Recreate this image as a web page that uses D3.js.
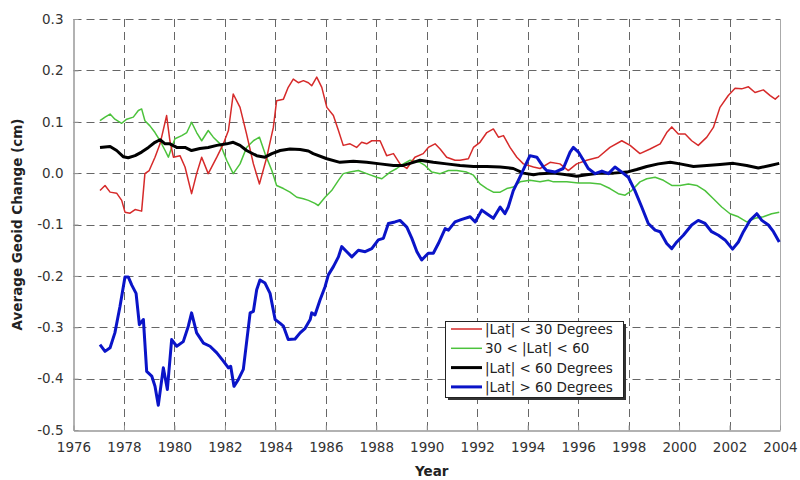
<!DOCTYPE html>
<html>
<head>
<meta charset="utf-8">
<script src="https://cdn.jsdelivr.net/npm/d3@7"></script>
<style>
  html, body { margin: 0; padding: 0; background: #fff; }
  svg { display: block; font-family: "DejaVu Sans", Verdana, sans-serif; }
</style>
</head>
<body>
<svg id="chart" width="800" height="480"></svg>
<script>
// ---- data (year, value in cm) ----
const xTicks = [1976, 1978, 1980, 1982, 1984, 1986, 1988, 1990, 1992, 1994, 1996, 1998, 2000, 2002, 2004];
const yTicks = [-0.5, -0.4, -0.3, -0.2, -0.1, 0.0, 0.1, 0.2, 0.3];
const seriesNames = ["|Lat| < 30 Degrees", "30 < |Lat| < 60", "|Lat| < 60 Degrees", "|Lat| > 60 Degrees"];

const redData = [
  [1977.05,-0.034],[1977.25,-0.024],[1977.45,-0.037],[1977.71,-0.039],[1977.91,-0.053],[1978.04,-0.076],
  [1978.24,-0.078],[1978.44,-0.071],[1978.70,-0.074],[1978.83,-0.001],[1979.0,0.005],[1979.23,0.031],
  [1979.43,0.057],[1979.69,0.112],[1979.82,0.063],[1979.96,0.031],[1980.22,0.034],[1980.42,0.012],
  [1980.68,-0.040],[1980.88,-0.001],[1981.08,0.031],[1981.34,-0.001],[1981.68,0.031],[1981.94,0.057],
  [1982.14,0.083],[1982.33,0.154],[1982.60,0.128],[1982.86,0.076],[1983.13,0.018],[1983.37,-0.021],
  [1983.66,0.031],[1983.92,0.089],[1984.05,0.141],[1984.32,0.144],[1984.51,0.167],[1984.71,0.183],
  [1984.91,0.176],[1985.11,0.180],[1985.31,0.176],[1985.44,0.170],[1985.64,0.187],[1985.84,0.167],
  [1986.04,0.128],[1986.30,0.112],[1986.50,0.083],[1986.69,0.054],[1986.96,0.057],[1987.22,0.050],
  [1987.42,0.060],[1987.62,0.057],[1987.82,0.063],[1988.15,0.063],[1988.41,0.034],[1988.68,0.038],
  [1988.94,0.018],[1989.21,0.009],[1989.53,0.031],[1989.86,0.038],[1990.06,0.050],[1990.33,0.057],
  [1990.53,0.047],[1990.79,0.031],[1991.12,0.025],[1991.32,0.025],[1991.65,0.028],[1991.85,0.050],
  [1992.11,0.060],[1992.38,0.079],[1992.64,0.086],[1992.84,0.070],[1993.04,0.073],[1993.30,0.050],
  [1993.57,0.031],[1993.83,0.018],[1994.23,0.012],[1994.49,0.009],[1994.89,0.021],[1995.28,0.018],
  [1995.61,0.005],[1995.94,0.018],[1996.34,0.025],[1996.80,0.031],[1997.26,0.050],[1997.73,0.063],
  [1998.06,0.054],[1998.45,0.038],[1998.85,0.047],[1999.25,0.057],[1999.51,0.079],[1999.71,0.090],
  [1999.97,0.076],[2000.24,0.076],[2000.50,0.063],[2000.76,0.054],[2001.10,0.070],[2001.36,0.089],
  [2001.62,0.128],[2001.95,0.151],[2002.22,0.165],[2002.48,0.164],[2002.75,0.168],[2003.01,0.157],
  [2003.34,0.162],[2003.61,0.151],[2003.81,0.144],[2003.97,0.151]
];

const greenData = [
  [1977.05,0.102],[1977.25,0.109],[1977.45,0.115],[1977.64,0.105],[1977.91,0.097],[1978.11,0.105],
  [1978.37,0.109],[1978.57,0.122],[1978.70,0.125],[1978.83,0.102],[1979.03,0.092],[1979.23,0.079],
  [1979.43,0.063],[1979.63,0.044],[1979.76,0.031],[1979.89,0.050],[1980.02,0.067],[1980.29,0.073],
  [1980.49,0.079],[1980.68,0.099],[1980.88,0.079],[1981.08,0.063],[1981.34,0.083],[1981.54,0.070],
  [1981.81,0.057],[1982.07,0.025],[1982.33,-0.001],[1982.60,0.018],[1982.86,0.050],[1983.13,0.063],
  [1983.37,0.070],[1983.59,0.038],[1983.86,0.005],[1984.05,-0.024],[1984.32,-0.030],[1984.58,-0.037],
  [1984.85,-0.047],[1985.11,-0.050],[1985.31,-0.053],[1985.57,-0.059],[1985.70,-0.063],[1985.97,-0.047],
  [1986.23,-0.034],[1986.50,-0.014],[1986.69,-0.001],[1986.96,0.002],[1987.29,0.005],[1987.62,-0.001],
  [1988.02,-0.008],[1988.22,-0.011],[1988.55,0.002],[1988.81,0.009],[1989.07,0.018],[1989.34,0.025],
  [1989.73,0.021],[1989.93,0.015],[1990.20,0.002],[1990.53,-0.001],[1990.86,0.005],[1991.19,0.005],
  [1991.58,0.002],[1991.85,-0.004],[1992.11,-0.021],[1992.38,-0.030],[1992.64,-0.037],[1992.91,-0.037],
  [1993.17,-0.030],[1993.43,-0.027],[1993.70,-0.017],[1994.09,-0.014],[1994.49,-0.017],[1994.82,-0.014],
  [1995.02,-0.017],[1995.55,-0.017],[1996.01,-0.019],[1996.47,-0.019],[1996.87,-0.021],[1997.26,-0.030],
  [1997.59,-0.040],[1997.86,-0.043],[1998.12,-0.034],[1998.45,-0.017],[1998.72,-0.011],[1999.05,-0.008],
  [1999.38,-0.014],[1999.71,-0.024],[2000.04,-0.024],[2000.37,-0.021],[2000.70,-0.024],[2001.03,-0.034],
  [2001.36,-0.050],[2001.69,-0.066],[2002.02,-0.079],[2002.35,-0.085],[2002.68,-0.095],[2003.01,-0.088],
  [2003.34,-0.085],[2003.67,-0.079],[2003.97,-0.076]
];

const blackData = [
  [1977.05,0.050],[1977.45,0.052],[1977.71,0.044],[1977.97,0.032],[1978.17,0.030],[1978.44,0.034],
  [1978.70,0.041],[1978.97,0.050],[1979.23,0.060],[1979.43,0.065],[1979.63,0.057],[1979.82,0.057],
  [1980.09,0.050],[1980.42,0.050],[1980.68,0.044],[1981.01,0.048],[1981.34,0.050],[1981.68,0.054],
  [1982.07,0.057],[1982.33,0.060],[1982.60,0.054],[1982.86,0.044],[1983.26,0.034],[1983.59,0.031],
  [1983.86,0.038],[1984.19,0.044],[1984.58,0.047],[1984.98,0.046],[1985.31,0.043],[1985.50,0.038],
  [1986.04,0.028],[1986.56,0.021],[1987.09,0.023],[1987.62,0.021],[1988.15,0.018],[1988.68,0.015],
  [1989.07,0.015],[1989.47,0.021],[1989.73,0.025],[1990.26,0.021],[1990.79,0.018],[1991.32,0.015],
  [1991.85,0.013],[1992.38,0.013],[1992.91,0.012],[1993.43,0.009],[1993.83,0.000],[1994.23,-0.003],
  [1994.49,-0.001],[1995.02,0.000],[1995.55,-0.003],[1995.94,-0.006],[1996.34,-0.003],[1996.87,0.000],
  [1997.40,0.000],[1997.93,0.002],[1998.32,0.007],[1998.72,0.013],[1999.18,0.018],[1999.65,0.021],
  [2000.04,0.018],[2000.57,0.013],[2001.10,0.015],[2001.62,0.017],[2002.15,0.019],[2002.68,0.015],
  [2003.14,0.010],[2003.61,0.015],[2003.97,0.019]
];

const blueData = [
  [1977.05,-0.334],[1977.25,-0.347],[1977.45,-0.340],[1977.64,-0.311],[1977.84,-0.260],[1978.04,-0.202],
  [1978.17,-0.202],[1978.31,-0.218],[1978.48,-0.234],[1978.61,-0.295],[1978.77,-0.285],[1978.90,-0.386],
  [1979.10,-0.395],[1979.23,-0.415],[1979.36,-0.452],[1979.56,-0.379],[1979.72,-0.421],[1979.89,-0.324],
  [1980.09,-0.337],[1980.35,-0.328],[1980.55,-0.298],[1980.68,-0.272],[1980.88,-0.311],[1981.15,-0.331],
  [1981.41,-0.337],[1981.68,-0.350],[1981.94,-0.366],[1982.14,-0.379],[1982.23,-0.376],[1982.36,-0.415],
  [1982.53,-0.402],[1982.73,-0.382],[1983.00,-0.272],[1983.13,-0.269],[1983.26,-0.227],[1983.39,-0.208],
  [1983.59,-0.214],[1983.79,-0.234],[1983.99,-0.285],[1984.18,-0.292],[1984.32,-0.298],[1984.51,-0.324],
  [1984.78,-0.323],[1984.98,-0.311],[1985.18,-0.302],[1985.38,-0.285],[1985.44,-0.272],[1985.57,-0.276],
  [1985.77,-0.247],[1985.97,-0.221],[1986.10,-0.198],[1986.30,-0.182],[1986.50,-0.163],[1986.63,-0.143],
  [1986.83,-0.153],[1987.03,-0.163],[1987.29,-0.150],[1987.56,-0.153],[1987.82,-0.147],[1988.08,-0.130],
  [1988.28,-0.127],[1988.48,-0.098],[1988.74,-0.095],[1988.94,-0.092],[1989.21,-0.105],[1989.41,-0.127],
  [1989.61,-0.153],[1989.80,-0.169],[1990.06,-0.156],[1990.26,-0.156],[1990.46,-0.137],[1990.73,-0.108],
  [1990.86,-0.111],[1991.12,-0.095],[1991.39,-0.090],[1991.72,-0.085],[1991.92,-0.095],[1992.18,-0.072],
  [1992.38,-0.079],[1992.64,-0.088],[1992.91,-0.066],[1993.10,-0.079],[1993.23,-0.066],[1993.43,-0.034],
  [1993.63,-0.014],[1994.09,0.034],[1994.36,0.031],[1994.62,0.012],[1994.75,0.005],[1995.08,0.002],
  [1995.41,0.009],[1995.68,0.041],[1995.81,0.050],[1996.01,0.041],[1996.21,0.025],[1996.40,0.009],
  [1996.67,-0.001],[1996.94,0.004],[1997.20,-0.001],[1997.46,0.012],[1997.73,0.002],[1997.99,-0.008],
  [1998.25,-0.034],[1998.52,-0.066],[1998.78,-0.098],[1999.05,-0.111],[1999.25,-0.114],[1999.51,-0.137],
  [1999.71,-0.147],[1999.91,-0.134],[2000.17,-0.121],[2000.50,-0.101],[2000.76,-0.092],[2001.03,-0.098],
  [2001.29,-0.114],[2001.56,-0.121],[2001.82,-0.130],[2002.12,-0.148],[2002.35,-0.134],[2002.55,-0.114],
  [2002.81,-0.092],[2003.08,-0.079],[2003.28,-0.092],[2003.54,-0.101],[2003.74,-0.114],[2003.97,-0.134]
];

// ---- drawing ----
const svg = d3.select("#chart");
const x = d3.scaleLinear().domain([1976, 2004]).range([73.5, 780]);
const y = d3.scaleLinear().domain([-0.5, 0.3]).range([430, 19]);
const X0 = x.range()[0], X1 = x.range()[1], Y0 = y.range()[0], Y1 = y.range()[1];

// grid
const grid = svg.append("g").attr("stroke", "#666").attr("stroke-width", 1)
  .attr("stroke-dasharray", "8,5").attr("fill", "none");
grid.selectAll("line.v").data(xTicks.filter(t => t > 1976 && t < 2004)).join("line")
  .attr("x1", d => Math.round(x(d)) + 0.5).attr("x2", d => Math.round(x(d)) + 0.5)
  .attr("y1", Y1).attr("y2", Y0);
grid.selectAll("line.h").data(yTicks.filter(t => t > -0.5)).join("line")
  .attr("y1", d => Math.round(y(d)) + 0.5).attr("y2", d => Math.round(y(d)) + 0.5)
  .attr("x1", X0).attr("x2", X1);

// right border
svg.append("line").attr("x1", X1 + 0.5).attr("x2", X1 + 0.5).attr("y1", Y1).attr("y2", Y0)
  .attr("stroke", "#aaa").attr("stroke-width", 1);

// axes
const xAxis = d3.axisBottom(x).tickValues(xTicks).tickFormat(d3.format("d")).tickSizeInner(-5).tickSizeOuter(0).tickPadding(12);
const yAxis = d3.axisLeft(y).tickValues(yTicks).tickFormat(d3.format(".1f")).tickSizeInner(-5).tickSizeOuter(0).tickPadding(10);

const gx = svg.append("g").attr("transform", `translate(0,${Y0 + 0.5})`).call(xAxis);
const gy = svg.append("g").attr("transform", `translate(${X0},0)`).call(yAxis);
[gx, gy].forEach(g => {
  g.select(".domain").attr("stroke", "#999").attr("stroke-width", 1.5);
  g.selectAll(".tick line").attr("stroke", "#999");
  g.selectAll(".tick text").attr("fill", "#333").style("font-size", "13.5px")
    .style("font-family", '"DejaVu Sans", Verdana, sans-serif');
});
gy.selectAll(".tick text").text(d => d3.format(".1f")(d).replace("−", "-"));
gx.selectAll(".tick text").text(d => d);

// axis titles
svg.append("text").attr("x", (X0 + X1) / 2 + 5).attr("y", 476).attr("text-anchor", "middle")
  .attr("font-weight", "bold").attr("font-size", 13.5).attr("fill", "#222").text("Year");
svg.append("text").attr("transform", `translate(22,${(Y0 + Y1) / 2}) rotate(-90)`)
  .attr("text-anchor", "middle").attr("font-weight", "bold").attr("font-size", 13.5)
  .attr("fill", "#222").text("Average Geoid Change (cm)");

// lines
const line = d3.line().x(d => x(d[0])).y(d => y(d[1]));
const series = [
  { data: redData, color: "#d62a2a", width: 1.5 },
  { data: greenData, color: "#4cc23c", width: 1.5 },
  { data: blackData, color: "#000000", width: 3 },
  { data: blueData, color: "#0a14c8", width: 3 }
];
// draw order: green, red, black, blue (blue on top)
[1, 0, 2, 3].forEach(i => {
  svg.append("path").datum(series[i].data).attr("d", line)
    .attr("fill", "none").attr("stroke", series[i].color)
    .attr("stroke-width", series[i].width).attr("stroke-linejoin", "round");
});

// legend
const lg = svg.append("g").attr("transform", "translate(445,321)");
const lw = 178, lh = 76;
lg.append("rect").attr("x", 3).attr("y", 3).attr("width", lw).attr("height", lh).attr("fill", "#333");
lg.append("rect").attr("x", 0.5).attr("y", 0.5).attr("width", lw).attr("height", lh)
  .attr("fill", "#fff").attr("stroke", "#222").attr("stroke-width", 1);
seriesNames.forEach((name, i) => {
  const cy = 8 + i * 19.3;
  lg.append("line").attr("x1", 6).attr("x2", 37).attr("y1", cy).attr("y2", cy)
    .attr("stroke", series[i].color).attr("stroke-width", series[i].width);
  lg.append("text").attr("x", 40).attr("y", cy + 5).attr("font-size", 13.5).attr("fill", "#222").text(name);
});
</script>
</body>
</html>
